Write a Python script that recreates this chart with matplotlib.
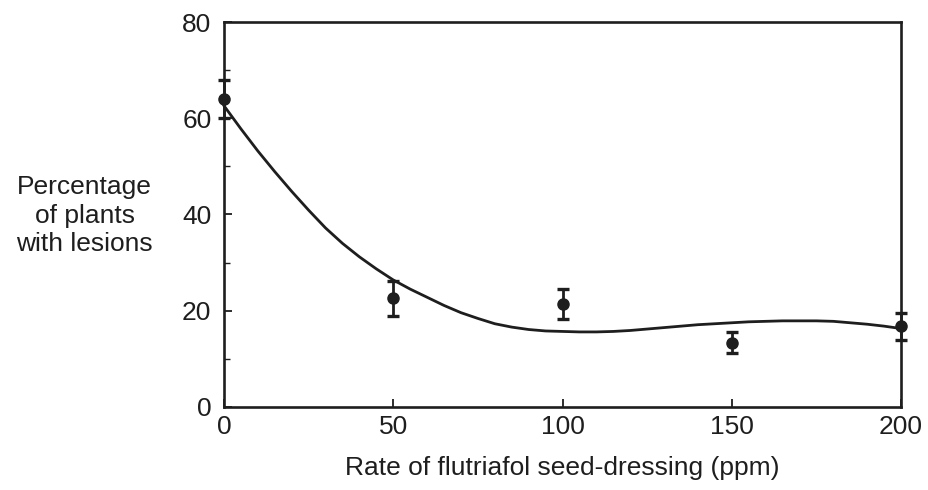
import matplotlib
matplotlib.use("Agg")
import matplotlib.pyplot as plt
from matplotlib.ticker import MultipleLocator

plt.rcParams['font.family'] = ['Liberation Sans', 'DejaVu Sans']

# measured points (mean +/- error)
rate = [0, 50, 100, 150, 200]
lesions = [64.0, 22.6, 21.4, 13.4, 16.8]
err = [4.0, 3.6, 3.1, 2.2, 2.8]

# fitted curve, every 5 ppm
curve_x = [0, 5, 10, 15, 20, 25, 30, 35, 40, 45, 50, 55, 60, 65, 70, 75, 80,
           85, 90, 95, 100, 105, 110, 115, 120, 125, 130, 135, 140, 145, 150,
           155, 160, 165, 170, 175, 180, 185, 190, 195, 200]
curve_y = [62.6, 57.8, 53.2, 48.9, 44.8, 40.9, 37.2, 34.0, 31.2, 28.7, 26.4,
           24.5, 22.8, 21.1, 19.6, 18.4, 17.3, 16.6, 16.1, 15.8, 15.7, 15.6,
           15.6, 15.7, 15.9, 16.2, 16.5, 16.8, 17.1, 17.3, 17.5, 17.7, 17.8,
           17.9, 17.9, 17.9, 17.8, 17.5, 17.2, 16.8, 16.3]

ink = '#1e1e1e'

fig = plt.figure(figsize=(9.29, 4.9), dpi=100)
ax = fig.add_axes([0.2411, 0.1694, 0.7288, 0.7857])

ax.plot(curve_x, curve_y, color=ink, lw=2.0, clip_on=False, zorder=2)
ax.errorbar(rate, lesions, yerr=err, fmt='o', color=ink, ms=8,
            elinewidth=2.0, capsize=4.5, capthick=2.4, clip_on=False, zorder=3)

ax.set_xlim(0, 200)
ax.set_ylim(0, 80)
ax.xaxis.set_major_locator(MultipleLocator(50))
ax.yaxis.set_major_locator(MultipleLocator(20))
ax.yaxis.set_minor_locator(MultipleLocator(10))
ax.tick_params(axis='both', which='major', direction='in', length=6, width=1.3,
               color=ink, labelsize=19, labelcolor=ink)
ax.tick_params(axis='y', which='major', pad=9)
ax.tick_params(axis='x', which='major', pad=6)
ax.tick_params(axis='y', which='minor', direction='in', length=4, width=1.0, color=ink)
for s in ax.spines.values():
    s.set_linewidth(1.9)
    s.set_color(ink)

ax.set_xlabel('Rate of flutriafol seed-dressing (ppm)', fontsize=19, color=ink, labelpad=12)
fig.text(0.091, 0.56, 'Percentage\nof plants\nwith lesions', ha='center', va='center',
         fontsize=19, color=ink, linespacing=1.25)

fig.savefig('out.png', dpi=100)
